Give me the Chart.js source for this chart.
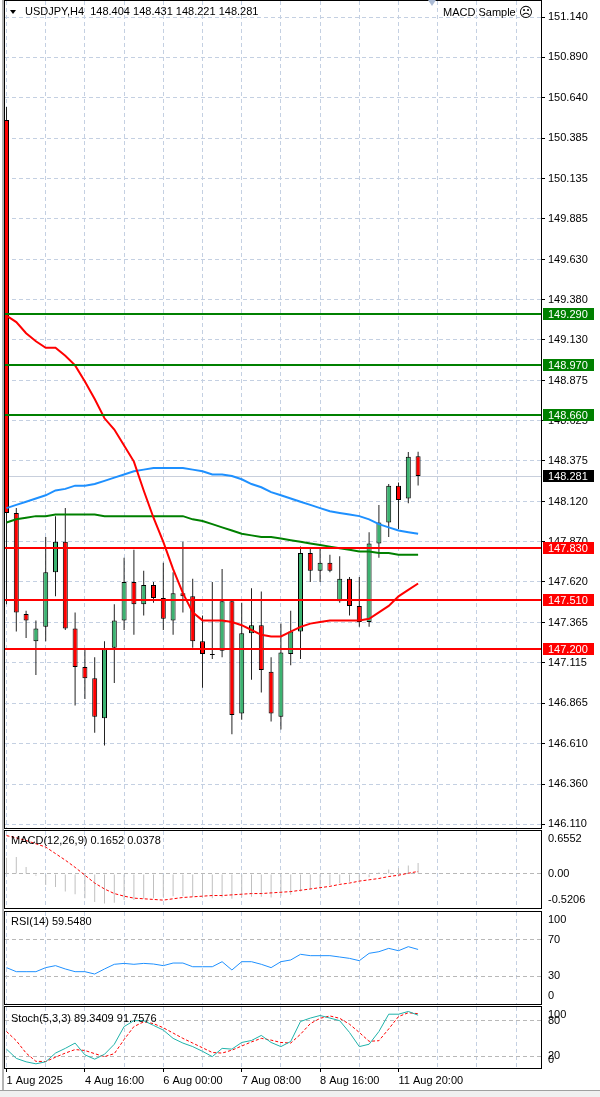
<!DOCTYPE html>
<html>
<head>
<meta charset="utf-8">
<title>USDJPY H4</title>
<script src="https://cdn.jsdelivr.net/npm/chart.js@4.4.1/dist/chart.umd.min.js"></script>
<style>
  html, body { margin: 0; padding: 0; background: #fff; }
  body { width: 600px; height: 1097px; position: relative; overflow: hidden;
         font-family: "Liberation Sans", Arial, sans-serif; }
  .pane { position: absolute; left: 0; width: 600px; }
  .txt { position: absolute; font-size: 11px; line-height: 13px; color: #000; white-space: pre; z-index: 2; }
  .tri { position: absolute; width: 0; height: 0; z-index: 2; }
</style>
</head>
<body>
<div class="pane" style="top:0;height:830px"><canvas id="mainChart"></canvas></div>
<div class="pane" style="top:829px;height:81px"><canvas id="macdChart"></canvas></div>
<div class="pane" style="top:910px;height:96px"><canvas id="rsiChart"></canvas></div>
<div class="pane" style="top:1005px;height:85px"><canvas id="stochChart"></canvas></div>

<div style="position:absolute;left:2px;top:0;width:2px;height:1090px;background:#b4b4b4"></div>
<div style="position:absolute;left:0;top:1090px;width:600px;height:7px;background:#f0f0f0;border-top:1px solid #a0a0a0"></div>

<div class="tri" style="left:10px;top:10px;border-left:3.5px solid transparent;border-right:3.5px solid transparent;border-top:4px solid #000"></div>
<div class="txt" style="left:25px;top:5px">USDJPY,H4  148.404 148.431 148.221 148.281</div>
<div class="tri" style="left:428px;top:0;border-left:4.5px solid transparent;border-right:4.5px solid transparent;border-top:6px solid #a9b9d3"></div>
<div class="txt" style="left:443px;top:6px">MACD Sample <span style="font-family:'DejaVu Sans';font-size:14px;vertical-align:-1px">☹</span></div>
<div class="txt" style="left:11px;top:834px">MACD(12,26,9) 0.1652 0.0378</div>
<div class="txt" style="left:11px;top:915px">RSI(14) 59.5480</div>
<div class="txt" style="left:11px;top:1012px">Stoch(5,3,3) 89.3409 91.7576</div>

<script>
// USDJPY H4 candles, bar 0 = 1 Aug 2025
const opens  = [150.50, 148.05, 147.42, 147.25, 147.34, 147.68, 147.87, 147.33, 147.09, 147.02,
                146.77, 147.21, 147.38, 147.62, 147.48, 147.60, 147.52, 147.38, 147.55, 147.53,
                147.25, 147.17, 147.19, 147.50, 146.80, 147.30, 147.35, 147.06, 146.78, 147.17,
                147.31, 147.80, 147.69, 147.74, 147.50, 147.64, 147.47, 147.37, 147.86, 147.99,
                148.22, 148.14, 148.404];
const highs  = [150.58, 148.08, 147.44, 147.38, 147.90, 148.03, 148.08, 147.43, 147.20, 147.15,
                147.25, 147.48, 147.77, 147.82, 147.69, 147.62, 147.74, 147.68, 147.87, 147.64,
                147.41, 147.62, 147.70, 147.51, 147.49, 147.58, 147.56, 147.15, 147.36, 147.44,
                147.84, 147.83, 147.83, 147.79, 147.78, 147.65, 147.65, 147.93, 148.10, 148.23,
                148.24, 148.43, 148.431];
const lows   = [147.48, 147.31, 147.27, 147.04, 147.25, 147.53, 147.32, 146.85, 146.89, 146.68,
                146.60, 146.99, 147.32, 147.29, 147.41, 147.49, 147.32, 147.29, 147.43, 147.21,
                146.96, 147.14, 147.15, 146.67, 146.76, 147.01, 146.93, 146.75, 146.70, 147.10,
                147.14, 147.62, 147.62, 147.68, 147.49, 147.41, 147.34, 147.34, 147.77, 147.90,
                147.95, 148.11, 148.221];
const closes = [148.05, 147.43, 147.38, 147.33, 147.68, 147.87, 147.33, 147.09, 147.02, 146.78,
                147.20, 147.38, 147.62, 147.48, 147.60, 147.52, 147.39, 147.55, 147.53, 147.25,
                147.17, 147.165, 147.50, 146.79, 147.30, 147.35, 147.07, 146.80, 147.18, 147.31,
                147.80, 147.69, 147.74, 147.69, 147.64, 147.47, 147.37, 147.86, 147.99, 148.22,
                148.13, 148.40, 148.281];

// moving averages
const maRed   = [149.28, 149.24, 149.17, 149.12, 149.08, 149.08, 149.03, 148.97, 148.87, 148.76,
                 148.64, 148.57, 148.47, 148.37, 148.19, 148.02, 147.87, 147.70, 147.55, 147.43,
                 147.38, 147.38, 147.38, 147.37, 147.35, 147.32, 147.29, 147.28, 147.28, 147.31,
                 147.34, 147.36, 147.37, 147.38, 147.38, 147.38, 147.38, 147.39, 147.43, 147.47,
                 147.53, 147.57, 147.61];
const maBlue  = [148.08, 148.10, 148.12, 148.14, 148.16, 148.19, 148.20, 148.22, 148.22, 148.23,
                 148.25, 148.27, 148.29, 148.31, 148.32, 148.33, 148.33, 148.33, 148.33, 148.32,
                 148.31, 148.29, 148.29, 148.28, 148.26, 148.23, 148.21, 148.18, 148.16, 148.14,
                 148.12, 148.10, 148.08, 148.06, 148.05, 148.04, 148.03, 148.01, 147.98, 147.96,
                 147.94, 147.93, 147.92];
const maGreen = [147.99, 148.01, 148.02, 148.03, 148.03, 148.04, 148.04, 148.04, 148.04, 148.04,
                 148.03, 148.03, 148.03, 148.03, 148.03, 148.03, 148.03, 148.03, 148.03, 148.01,
                 148.00, 147.98, 147.96, 147.94, 147.92, 147.91, 147.90, 147.90, 147.89, 147.88,
                 147.87, 147.86, 147.85, 147.84, 147.83, 147.82, 147.81, 147.81, 147.80, 147.80,
                 147.79, 147.79, 147.79];

const resistanceLevels = [149.290, 148.970, 148.660];
const supportLevels = [147.830, 147.510, 147.200];
const lastPrice = 148.281;
const priceTicks = [151.140, 150.890, 150.640, 150.385, 150.135, 149.885, 149.630, 149.380,
                    149.130, 148.875, 148.625, 148.375, 148.120, 147.870, 147.620, 147.365,
                    147.115, 146.865, 146.610, 146.360, 146.110];

// MACD(12,26,9)
const macdMain   = [0.245, 0.26, 0.107, -0.03, -0.17, -0.20, -0.27, -0.31, -0.37, -0.43,
                    -0.45, -0.44, -0.40, -0.40, -0.38, -0.37, -0.35, -0.34, -0.34, -0.35,
                    -0.36, -0.37, -0.36, -0.38, -0.36, -0.35, -0.35, -0.36, -0.34, -0.32,
                    -0.27, -0.24, -0.20, -0.17, -0.14, -0.12, -0.10, -0.05, 0.02, 0.066,
                    0.09, 0.127, 0.165];
const macdSignal = [0.585, 0.55, 0.51, 0.46, 0.41, 0.31, 0.21, 0.10, -0.02, -0.14,
                    -0.23, -0.30, -0.34, -0.37, -0.38, -0.39, -0.40, -0.38, -0.36, -0.35,
                    -0.34, -0.33, -0.33, -0.32, -0.31, -0.30, -0.30, -0.29, -0.28, -0.27,
                    -0.25, -0.23, -0.21, -0.19, -0.16, -0.14, -0.11, -0.09, -0.07, -0.04,
                    -0.02, 0.01, 0.038];
const macdTicks = [0.6552, 0, -0.5206];
const macdTickText = ['0.6552', '0.00', '-0.5206'];

// RSI(14)
const rsiValues = [39.3, 34.8, 34.8, 34.8, 39.3, 41.5, 37.8, 34.8, 34.8, 32.2,
                   37.8, 43, 44, 43, 44, 43.3, 41.5, 44.4, 44.4, 40.3,
                   40.3, 40.3, 45.9, 36.7, 45.9, 45.9, 43, 39.3, 45.9, 47.8,
                   54.1, 52.6, 52.6, 52.6, 51.1, 49.6, 47, 55.2, 57, 60.7,
                   58.1, 62.6, 59.5];
const rsiTicks = [100, 70, 30, 0];
const rsiLevels = [70, 30];

// Stochastic(5,3,3)
const stochMain   = [31.7, 16, 10.2, 6.8, 10.2, 25, 33, 42, 22, 14.7,
                     23, 40, 70, 80, 80, 72, 64, 50, 42, 36,
                     28, 19, 33, 31.7, 43, 46.4, 55, 43, 36, 44.7,
                     78.6, 84.4, 88.8, 84.4, 80, 60, 36, 40, 61.6, 91,
                     91, 95.6, 89.3];
const stochSignal = [61.6, 46, 25, 11, 10.7, 18, 25, 31, 29.4, 24,
                     19, 24, 48, 70, 78, 75, 68, 59, 50, 42,
                     34, 26, 25, 30, 37, 44, 50, 47, 43, 42,
                     57, 75, 84, 88, 84, 74, 60, 45, 46, 66,
                     87, 93.5, 91.8];
const stochTicks = [100, 80, 20, 0];
const stochLevels = [80, 20];

// time axis labels, one every 8 bars
const timeLabels = ['1 Aug 2025', '4 Aug 16:00', '6 Aug 00:00', '7 Aug 08:00', '8 Aug 16:00', '11 Aug 20:00'];

const bars = opens.map((_, i) => i);
const FONT = { family: '"Liberation Sans", Arial, sans-serif', size: 11 };
const FONT_CSS = '11px "Liberation Sans", Arial, sans-serif';
const GRID = '#c4d0e2';
const LEVEL_GRID = '#b8b8b8';
const UP = '#3cb371';
const DOWN = '#ff0000';
const X_MIN = -0.153;
const X_MAX = 54.54;

function xAxis(withLabels) {
    return {
        type: 'linear', min: X_MIN, max: X_MAX, offset: false,
        afterBuildTicks: s => {
            s.ticks = [];
            for (let v = 0; v <= X_MAX; v += 4) s.ticks.push({ value: v });
        },
        grid: {
            offset: false, color: GRID, drawTicks: withLabels, tickLength: 4, tickBorderDash: [],
            tickColor: c => (c.tick && c.tick.value % 8 === 0 && timeLabels[c.tick.value / 8]) ? '#000' : 'rgba(0,0,0,0)'
        },
        border: { display: false, dash: [4, 3] },
        ticks: {
            display: withLabels, autoSkip: false, maxRotation: 0, minRotation: 0, align: 'start',
            padding: 2, color: '#000', font: FONT,
            callback: v => (v % 8 === 0 && timeLabels[v / 8]) ? timeLabels[v / 8] : ''
        },
        afterFit: s => { s.height = withLabels ? 20 : 0; s.paddingLeft = 0; s.paddingRight = 0; }
    };
}

function subYAxis(min, max, levels) {
    return {
        position: 'right', min: min, max: max,
        afterBuildTicks: s => { s.ticks = levels.map(v => ({ value: v })); },
        ticks: { display: false },
        grid: { color: LEVEL_GRID, drawTicks: false },
        border: { display: false, dash: [4, 3] },
        afterFit: s => { s.width = 59; s.paddingTop = 0; s.paddingBottom = 0; }
    };
}

// frame + right-hand labels of every panel
const panelDecor = {
    id: 'panelDecor',
    afterDraw(chart, args, opts) {
        const { ctx, chartArea: a } = chart;
        const y = chart.scales.y;
        ctx.save();
        ctx.strokeStyle = '#000';
        ctx.lineWidth = 1;
        ctx.strokeRect(a.left - 0.5, a.top - 0.5, a.right - a.left + 1, a.bottom - a.top + 1);
        if (opts.values) {
            ctx.font = FONT_CSS;
            ctx.fillStyle = '#000';
            ctx.textBaseline = 'middle';
            ctx.textAlign = 'left';
            opts.values.forEach((v, k) => {
                let py = y.getPixelForValue(v);
                py = Math.min(Math.max(py, a.top + 8), a.bottom - 8);
                ctx.fillText(opts.texts[k], a.right + 7, py);
            });
        }
        ctx.restore();
    }
};

// horizontal levels, last price line and their axis boxes
const mainDecor = {
    id: 'mainDecor',
    beforeDatasetsDraw(chart) {
        const { ctx, chartArea: a, scales: { y } } = chart;
        const py = Math.round(y.getPixelForValue(lastPrice)) + 0.5;
        ctx.save();
        ctx.strokeStyle = '#c8cfdc';
        ctx.lineWidth = 1;
        ctx.beginPath();
        ctx.moveTo(a.left, py);
        ctx.lineTo(a.right, py);
        ctx.stroke();
        ctx.restore();
    },
    afterDatasetsDraw(chart) {
        const { ctx, chartArea: a, scales: { y } } = chart;
        ctx.save();
        ctx.lineWidth = 2;
        const draw = (lvl, col) => {
            const py = Math.round(y.getPixelForValue(lvl));
            ctx.strokeStyle = col;
            ctx.beginPath();
            ctx.moveTo(a.left, py);
            ctx.lineTo(a.right, py);
            ctx.stroke();
        };
        resistanceLevels.forEach(l => draw(l, '#008000'));
        supportLevels.forEach(l => draw(l, '#ff0000'));
        ctx.restore();
    },
    afterDraw(chart) {
        const { ctx, chartArea: a, scales: { y } } = chart;
        ctx.save();
        ctx.font = FONT_CSS;
        ctx.textBaseline = 'middle';
        ctx.textAlign = 'left';
        const box = (lvl, col) => {
            const py = Math.round(y.getPixelForValue(lvl));
            ctx.fillStyle = col;
            ctx.fillRect(a.right + 2, py - 6, 51, 12);
            ctx.fillStyle = '#fff';
            ctx.fillText(lvl.toFixed(3), a.right + 7, py + 0.5);
        };
        resistanceLevels.forEach(l => box(l, '#008000'));
        supportLevels.forEach(l => box(l, '#ff0000'));
        box(lastPrice, '#000');
        ctx.restore();
    }
};

const baseOptions = {
    responsive: true,
    maintainAspectRatio: false,
    animation: false,
    events: [],
    plugins: { legend: { display: false }, tooltip: { enabled: false } }
};

new Chart(document.getElementById('mainChart'), {
    type: 'bar',
    data: {
        datasets: [
            { type: 'line', data: bars.map(i => ({ x: i, y: maRed[i] })), borderColor: '#ff0000',
              borderWidth: 2, pointRadius: 0, tension: 0, order: 1 },
            { type: 'line', data: bars.map(i => ({ x: i, y: maBlue[i] })), borderColor: '#1e90ff',
              borderWidth: 2, pointRadius: 0, tension: 0, order: 1 },
            { type: 'line', data: bars.map(i => ({ x: i, y: maGreen[i] })), borderColor: '#008000',
              borderWidth: 2, pointRadius: 0, tension: 0, order: 1 },
            { type: 'bar', data: bars.map(i => ({ x: i, y: [opens[i], closes[i]] })),
              backgroundColor: bars.map(i => closes[i] >= opens[i] ? UP : DOWN),
              borderColor: '#000', borderWidth: 1, borderSkipped: false, inflateAmount: 0,
              barThickness: 5, grouped: false, order: 2, clip: 0 },
            { type: 'bar', data: bars.map(i => ({ x: i, y: [lows[i], highs[i]] })),
              backgroundColor: '#222', borderWidth: 0, inflateAmount: 0,
              barThickness: 1, grouped: false, order: 3, clip: 0 }
        ]
    },
    options: {
        ...baseOptions,
        layout: { padding: { left: 5, top: 1, right: 0, bottom: 2 } },
        plugins: { ...baseOptions.plugins, panelDecor: {} },
        scales: {
            x: xAxis(false),
            y: {
                position: 'right', min: 146.0857, max: 151.2416,
                afterBuildTicks: s => { s.ticks = priceTicks.map(v => ({ value: v })); },
                ticks: { padding: 3, color: '#000', font: FONT, callback: v => v.toFixed(3) },
                grid: { color: GRID, tickLength: 4, tickColor: '#000', tickBorderDash: [] },
                border: { display: false, dash: [4, 3] },
                afterFit: s => { s.width = 59; s.paddingTop = 0; s.paddingBottom = 0; }
            }
        }
    },
    plugins: [mainDecor, panelDecor]
});

new Chart(document.getElementById('macdChart'), {
    type: 'bar',
    data: {
        datasets: [
            { type: 'line', data: bars.map(i => ({ x: i, y: macdSignal[i] })), borderColor: '#ff0000',
              borderWidth: 1, borderDash: [3, 2], pointRadius: 0, tension: 0, order: 1 },
            { type: 'bar', data: bars.map(i => ({ x: i, y: macdMain[i] })), backgroundColor: '#c0c0c0',
              borderWidth: 0, inflateAmount: 0, barThickness: 1, grouped: false, order: 2, clip: 0 }
        ]
    },
    options: {
        ...baseOptions,
        layout: { padding: { left: 5, top: 2, right: 0, bottom: 2 } },
        plugins: { ...baseOptions.plugins, panelDecor: { values: macdTicks, texts: macdTickText } },
        scales: { x: xAxis(false), y: subYAxis(-0.5206, 0.6552, [0]) }
    },
    plugins: [panelDecor]
});

new Chart(document.getElementById('rsiChart'), {
    type: 'line',
    data: {
        datasets: [
            { data: bars.map(i => ({ x: i, y: rsiValues[i] })), borderColor: '#1e90ff',
              borderWidth: 1, pointRadius: 0, tension: 0 }
        ]
    },
    options: {
        ...baseOptions,
        layout: { padding: { left: 5, top: 2, right: 0, bottom: 2 } },
        plugins: { ...baseOptions.plugins, panelDecor: { values: rsiTicks, texts: rsiTicks.map(String) } },
        scales: { x: xAxis(false), y: subYAxis(-1.111, 101.111, rsiLevels) }
    },
    plugins: [panelDecor]
});

new Chart(document.getElementById('stochChart'), {
    type: 'line',
    data: {
        datasets: [
            { data: bars.map(i => ({ x: i, y: stochSignal[i] })), borderColor: '#ff0000',
              borderWidth: 1, borderDash: [3, 2], pointRadius: 0, tension: 0, order: 2 },
            { data: bars.map(i => ({ x: i, y: stochMain[i] })), borderColor: '#20b2aa',
              borderWidth: 1, pointRadius: 0, tension: 0, order: 1 }
        ]
    },
    options: {
        ...baseOptions,
        layout: { padding: { left: 5, top: 2, right: 0, bottom: 2 } },
        plugins: { ...baseOptions.plugins, panelDecor: { values: stochTicks, texts: stochTicks.map(String) } },
        scales: { x: xAxis(true), y: subYAxis(-0.3, 103.2, stochLevels) }
    },
    plugins: [panelDecor]
});
</script>
</body>
</html>
